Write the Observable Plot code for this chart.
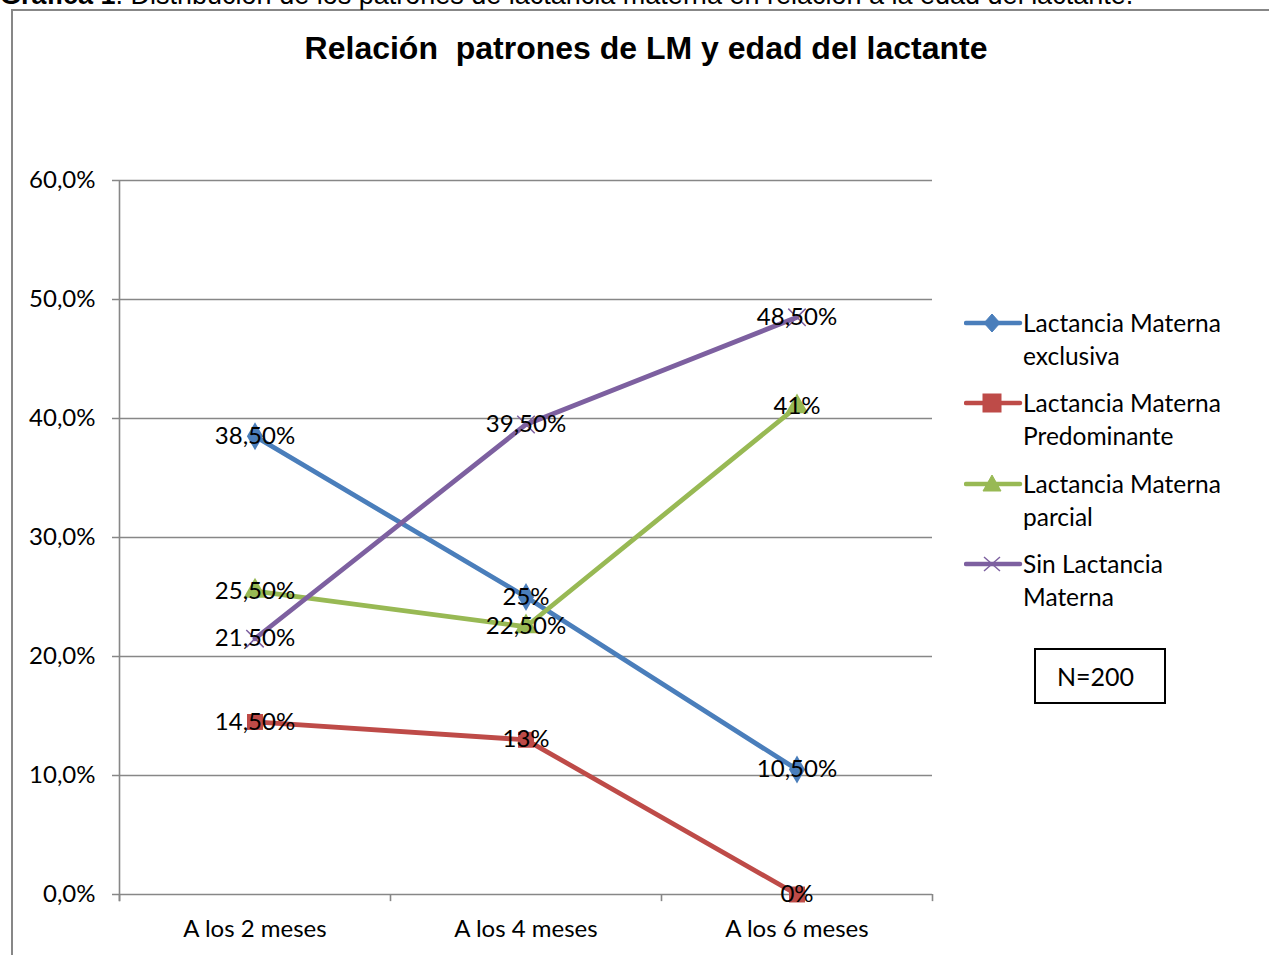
<!DOCTYPE html>
<html>
<head>
<meta charset="utf-8">
<script src="https://cdn.jsdelivr.net/npm/d3@7"></script>
<script src="https://cdn.jsdelivr.net/npm/@observablehq/plot@0.6"></script>
<style>
  html, body { margin: 0; padding: 0; background: #fff; overflow: hidden; }
  #wrap { position: relative; width: 1269px; height: 955px; }
  #chart { position: absolute; left: 0; top: 0; }
  #caption { position: absolute; left: 0; top: -20px; font-family: "Liberation Sans", Arial, sans-serif; font-size: 27px; line-height: 31px; white-space: nowrap; color: #000; }
  #frame { position: absolute; left: 11px; top: 9px; width: 1300px; height: 1000px; border: 2px solid #878787; box-sizing: border-box; }
  #title { position: absolute; left: 0; width: 1292px; top: 30px; text-align: center; font-family: "Liberation Sans", Arial, sans-serif; font-weight: bold; font-size: 32px; line-height: 36px; white-space: pre; color: #000; }
  .leg { position: absolute; left: 964px; font-family: Lato, sans-serif; font-size: 24.5px; line-height: 32.5px; color: #000; }
  .leg svg { position: absolute; left: 0; top: 0; }
  .leg span { position: absolute; left: 59px; top: 0; white-space: nowrap; }
  #nbox { position: absolute; left: 1034px; top: 648px; width: 132px; height: 56px; border: 2px solid #000; box-sizing: border-box; font-family: Lato, sans-serif; font-size: 25px; text-align: left; padding-left: 21px; line-height: 52px; }
</style>
</head>
<body>
<div id="wrap">
  <div id="frame"></div>
  <div id="caption"><b>Gráfica 1</b>. Distribución de los patrones de lactancia materna en relación a la edad del lactante.</div>
  <div id="title">Relación  patrones de LM y edad del lactante</div>
  <div id="chart"></div>
  <div id="legend"></div>
  <div id="nbox">N=200</div>
</div>
<script>
const categories = ["A los 2 meses", "A los 4 meses", "A los 6 meses"];
const seriesNames = [
  "Lactancia Materna exclusiva",
  "Lactancia Materna Predominante",
  "Lactancia Materna parcial",
  "Sin Lactancia Materna"
];
const legendLines = [
  ["Lactancia Materna", "exclusiva"],
  ["Lactancia Materna", "Predominante"],
  ["Lactancia Materna", "parcial"],
  ["Sin Lactancia", "Materna"]
];
const exclusiva = [38.5, 25, 10.5];
const predominante = [14.5, 13, 0];
const parcial = [25.5, 22.5, 41];
const sinLactancia = [21.5, 39.5, 48.5];
const labelsExclusiva = ["38,50%", "25%", "10,50%"];
const labelsPredominante = ["14,50%", "13%", "0%"];
const labelsParcial = ["25,50%", "22,50%", "41%"];
const labelsSin = ["21,50%", "39,50%", "48,50%"];
const yTicks = [0, 10, 20, 30, 40, 50, 60];

const colors = ["#4A7EBB", "#BE4B48", "#98B954", "#7D60A0"];
const symbols = ["diamond", "square", "triangle", "times"];

const allValues = [exclusiva, predominante, parcial, sinLactancia];
const allLabels = [labelsExclusiva, labelsPredominante, labelsParcial, labelsSin];
const data = [];
allValues.forEach((vals, s) => vals.forEach((v, i) => data.push({
  series: seriesNames[s], cat: categories[i], value: v, label: allLabels[s][i]
})));

const W = 1269, H = 955;
const mL = 119, mR = W - 932, mT = 180, mB = H - 894;
const bw = (W - mL - mR) / categories.length;
const font = "Lato, sans-serif";

const marks = [
  Plot.ruleY(yTicks, {y: d => d, insetLeft: -7, stroke: "#878787", strokeWidth: 1.6}),
  Plot.ruleX([categories[0]], {x: d => d, dx: -bw/2, y1: -0.6, y2: 60, stroke: "#878787", strokeWidth: 1.6}),
  Plot.ruleX(categories, {x: d => d, dx: -bw/2, y1: -0.6, y2: 0, stroke: "#878787", strokeWidth: 1.6}),
  Plot.ruleX([categories[categories.length - 1]], {x: d => d, dx: bw/2, y1: -0.6, y2: 0, stroke: "#878787", strokeWidth: 1.6}),
  Plot.axisY({ticks: yTicks, label: null, tickSize: 0, tickPadding: 24, tickFormat: d => d.toFixed(1).replace(".", ",") + "%", fontSize: 24, fontFamily: font, fill: "#000"}),
  Plot.axisX({label: null, tickSize: 0, tickPadding: 25, fontSize: 24, fontFamily: font, fill: "#000"})
];
seriesNames.forEach((name, s) => {
  const sub = data.filter(d => d.series === name);
  marks.push(Plot.line(sub, {x: "cat", y: "value", stroke: colors[s], strokeWidth: 4.8}));
  if (symbols[s] === "times") {
    marks.push(Plot.dot(sub, {x: "cat", y: "value", symbol: "times", r: 8, stroke: colors[s], strokeWidth: 1.5}));
  } else {
    marks.push(Plot.dot(sub, {x: "cat", y: "value", symbol: symbols[s], r: symbols[s] === "square" ? 9 : 8.5, fill: colors[s], stroke: "none"}));
  }
});
marks.push(Plot.text(data, {x: "cat", y: "value", text: "label", fontSize: 24, fontFamily: font, fill: "#000"}));

const plot = Plot.plot({
  width: W, height: H,
  marginLeft: mL, marginRight: mR, marginTop: mT, marginBottom: mB,
  style: {background: "transparent", overflow: "visible"},
  x: {type: "band", domain: categories, padding: 0, axis: null},
  y: {domain: [0, 60], axis: null},
  marks
});
document.getElementById("chart").appendChild(plot);

// legend
const legend = document.getElementById("legend");
const tops = [307, 387, 468, 548];
const symbolPaths = {
  diamond: '<path d="M28,7 L36,16 L28,25 L20,16 Z" />',
  square: '<rect x="19" y="7" width="18" height="18" />',
  triangle: '<path d="M28,7 L37,23 L19,23 Z" />',
  times: '<path d="M20,9 L36,23 M36,9 L20,23" fill="none" stroke-width="1.5" />'
};
seriesNames.forEach((name, s) => {
  const div = document.createElement("div");
  div.className = "leg";
  div.style.top = tops[s] + "px";
  const sym = symbolPaths[symbols[s]];
  div.innerHTML = `<svg width="60" height="32"><line x1="2" x2="56" y1="16" y2="16" stroke="${colors[s]}" stroke-width="4.5" stroke-linecap="round"/>` +
    `<g fill="${colors[s]}" stroke="${colors[s]}">${sym}</g></svg>` +
    `<span>${legendLines[s][0]}<br>${legendLines[s][1]}</span>`;
  legend.appendChild(div);
});
</script>
</body>
</html>
